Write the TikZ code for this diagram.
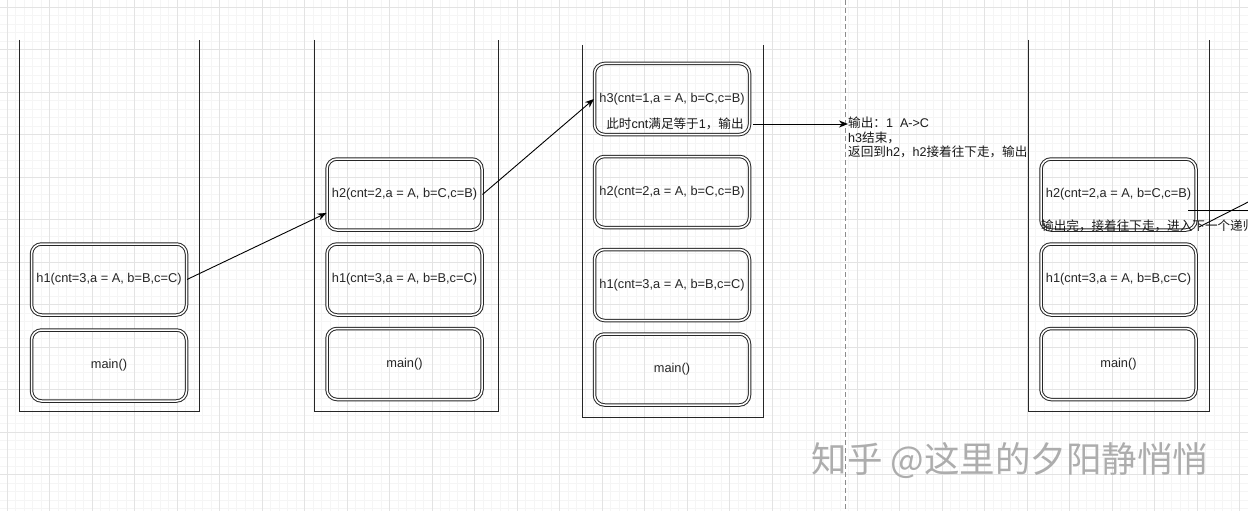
\documentclass[tikz,border=0pt]{standalone}
\usepackage{fontspec}
\setmainfont{Liberation Sans}
\newfontfamily\cjk{Noto Sans CJK SC}
\newcommand{\zh}[1]{{\cjk #1}}
\usetikzlibrary{positioning, arrows.meta, backgrounds, calc}

\begin{document}
\begin{tikzpicture}[x=1pt, y=-1pt,
  frame/.style={draw=black!85, double=white, double distance=1.5pt, line width=1pt,
                rounded corners=10pt, minimum width=155pt, minimum height=71pt,
                font=\fontsize{12.8}{15}\selectfont, text=black!85, inner sep=0pt},
  stackline/.style={draw=black!85, line width=1pt},
  note/.style={font=\fontsize{12.6}{14.5}\selectfont, text=black!90, inner sep=0pt, align=left},
  arr/.style={-{Stealth[length=9pt, width=7pt]}, line width=0.9pt, black},
  link/.style={line width=0.9pt, black},
  minor/.style={draw=black!4, line width=0.6pt},
  major/.style={draw=black!11, line width=0.7pt},
]
  \useasboundingbox (0,0) rectangle (1248,511);

  % grid paper
  \begin{scope}[on background layer]
    \fill[white] (0,0) rectangle (1248,511);
    \foreach \i in {0,...,147} \draw[minor] ({-1.5+8.5*\i},0) -- ({-1.5+8.5*\i},511);
    \foreach \i in {0,...,60} \draw[minor] (0,{-1.5+8.5*\i}) -- (1248,{-1.5+8.5*\i});
    \foreach \j in {0,...,29} \draw[major] ({7+42.5*\j},0) -- ({7+42.5*\j},511);
    \foreach \j in {0,...,11} \draw[major] (0,{7+42.5*\j}) -- (1248,{7+42.5*\j});
  \end{scope}
  \draw[black!45, line width=0.8pt, dash pattern=on 5pt off 3pt] (845,0) -- (845,511);

  % stacks
  \draw[stackline] (19,40) -- (19,411) -- (199,411) -- (199,40);
  \draw[stackline] (314,40) -- (314,411) -- (498,411) -- (498,40);
  \draw[stackline] (582,45) -- (582,417) -- (763,417) -- (763,45);
  \draw[stackline] (1028,40) -- (1028,411) -- (1209,411) -- (1209,40);

  \node[frame] (h1a) at (109,279.5) {h1(cnt=3,a = A, b=B,c=C)};
  \node[frame] (maina) at (109,365.5) {main()};

  \node[frame] (h2b) at (404.5,194.5) {h2(cnt=2,a = A, b=C,c=B)};
  \node[frame] (h1b) at (404.5,279.5) {h1(cnt=3,a = A, b=B,c=C)};
  \node[frame] (mainb) at (404.5,364) {main()};

  \node[frame] (h3c) at (672,99) {h3(cnt=1,a = A, b=C,c=B)};
  \node[frame] (h2c) at (672,192) {h2(cnt=2,a = A, b=C,c=B)};
  \node[frame] (h1c) at (672,285) {h1(cnt=3,a = A, b=B,c=C)};
  \node[frame] (mainc) at (672,369.5) {main()};

  \node[frame] (h2d) at (1118.5,194.5) {h2(cnt=2,a = A, b=C,c=B)};
  \node[frame] (h1d) at (1118.5,279.5) {h1(cnt=3,a = A, b=B,c=C)};
  \node[frame] (maind) at (1118.5,364) {main()};

  % notes
  \node[note] (h3note) at (675,124) {\zh{此时}cnt\zh{满足等于}1\zh{，输出}};
  \node[note, anchor=north west] (out1) at (848,117)
    {\zh{输出：}1\ \ A->C\\h3\zh{结束，}\\\zh{返回到}h2\zh{，}h2\zh{接着往下走，输出}};
  \node[note, anchor=west] (h2dnote) at (1041,226) {\zh{输出完，接着往下走，进入下一个递归}};

  \draw[arr] (h1a.east) -- ($(h2b.west)+(0,18.5)$);
  \draw[arr] (h2b.east) -- (h3c.west);
  \draw[arr] ([xshift=9pt]h3note.east) -- (h3note.east -| out1.west);

  \coordinate (s1) at (1188,210);
  \coordinate (e1) at (1260,210);
  \coordinate (s2) at (1199,227);
  \coordinate (e2) at (1260,196);
  \draw[link] (s1) -- (e1);
  \draw[link] (s2) -- (e2);

  \node[font=\cjk\fontsize{35.5}{38}\selectfont, text=black!32] (mark) at (1010,461) {知乎 @这里的夕阳静悄悄};
\end{tikzpicture}
\end{document}
